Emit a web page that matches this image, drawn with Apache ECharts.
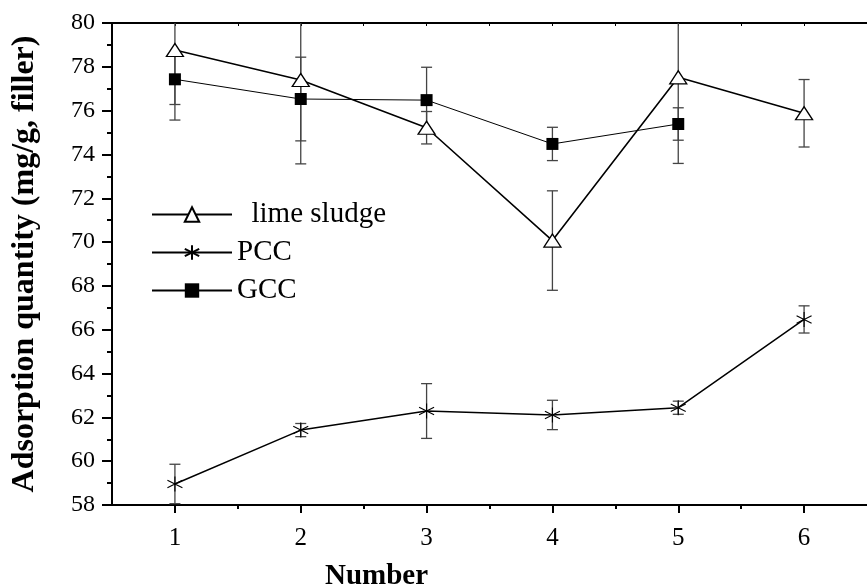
<!DOCTYPE html>
<html>
<head>
<meta charset="utf-8">
<script src="https://cdn.jsdelivr.net/npm/echarts@6/dist/echarts.min.js"></script>
<style>
html,body{margin:0;padding:0;background:#fff;}
#chart{width:867px;height:585px;}
</style>
</head>
<body>
<div id="chart"></div>
<script>
var xValues = [1, 2, 3, 4, 5, 6];
var xTickLabels = [1, 2, 3, 4, 5, 6];
var xMinorTicks = [1.5, 2.5, 3.5, 4.5, 5.5];

var limeSludge    = [78.77, 77.40, 75.22, 70.07, 77.52, 75.88];
var limeSludgeErr = [3.20, 3.83, 0.74, 2.27, 3.93, 1.54];
var pcc           = [58.96, 61.42, 62.29, 62.11, 62.44, 66.47];
var pccErr        = [0.90, 0.30, 1.25, 0.67, 0.30, 0.62];
var gccX          = [1, 2, 3, 4, 5];
var gcc           = [77.43, 76.53, 76.48, 74.48, 75.39];
var gccErr        = [1.15, 1.91, 1.50, 0.76, 0.74];

function pts(xs, ys) { return ys.map(function (v, i) { return [xs[i], v]; }); }
function errs(xs, ys, es) { return ys.map(function (v, i) { return [xs[i], v - es[i], v + es[i]]; }); }

var asterisk = 'path://M0,-1L0,1M-0.87,-0.5L0.87,0.5M-0.87,0.5L0.87,-0.5';
var FONT = 'Liberation Serif';

function errRender(params, api) {
  var cs = params.coordSys;
  var x = api.value(0);
  var lo = api.coord([x, api.value(1)]);
  var hi = api.coord([x, api.value(2)]);
  var top = cs.y, bot = cs.y + cs.height;
  var yHi = Math.max(hi[1], top), yLo = Math.min(lo[1], bot);
  var half = 5.5;
  var st = { stroke: '#444', lineWidth: 1.3 };
  var children = [{ type: 'line', shape: { x1: lo[0], y1: yLo, x2: lo[0], y2: yHi }, style: st }];
  if (hi[1] >= top) children.push({ type: 'line', shape: { x1: hi[0] - half, y1: hi[1], x2: hi[0] + half, y2: hi[1] }, style: st });
  if (lo[1] <= bot) children.push({ type: 'line', shape: { x1: lo[0] - half, y1: lo[1], x2: lo[0] + half, y2: lo[1] }, style: st });
  return { type: 'group', children: children };
}

var chart = echarts.init(document.getElementById('chart'), null, { renderer: 'canvas' });
var axisLineStyle = { color: '#000', width: 2 };
chart.setOption({
  animation: false,
  backgroundColor: '#fff',
  grid: { left: 112, top: 23, right: -11, bottom: 80, containLabel: false },
  legend: {
    orient: 'vertical', left: 146, top: 195,
    itemWidth: 80, itemHeight: 18, itemGap: 9,
    data: ['lime sludge', 'PCC', 'GCC'],
    formatter: function (n) { return n === 'lime sludge' ? '  ' + n : n; },
    textStyle: { fontFamily: FONT, fontSize: 29, color: '#000', padding: [0, 0, 0, 0] }
  },
  xAxis: [
    {
      type: 'value', position: 'bottom', min: 0.5, max: 6.5, interval: 0.5,
      axisLine: { show: true, lineStyle: axisLineStyle },
      axisTick: { show: true, inside: false, length: 8, customValues: xTickLabels, lineStyle: { color: '#000', width: 2 } },
      axisLabel: { show: true, customValues: xTickLabels, margin: 21, fontFamily: FONT, fontSize: 25, color: '#000' },
      splitLine: { show: false }
    },
    {
      type: 'value', position: 'bottom', min: 0.5, max: 6.5, interval: 0.5,
      axisLine: { show: false },
      axisTick: { show: true, inside: false, length: 4, customValues: xMinorTicks, lineStyle: { color: '#000', width: 2 } },
      axisLabel: { show: false }, splitLine: { show: false }
    },
    {
      type: 'value', position: 'top', min: 0.5, max: 6.5, interval: 0.5,
      axisLine: { show: true, onZero: false, lineStyle: axisLineStyle },
      axisTick: { show: true, inside: true, length: 3, lineStyle: { color: '#000', width: 1 } },
      axisLabel: { show: false }, splitLine: { show: false }
    }
  ],
  yAxis: {
    type: 'value', min: 58, max: 80, interval: 2,
    name: 'Adsorption quantity (mg/g, filler)',
    nameLocation: 'middle', nameRotate: 90, nameGap: 71,
    nameTextStyle: { fontFamily: FONT, fontSize: 32, fontWeight: 'bold', color: '#000' },
    axisLine: { show: true, onZero: false, lineStyle: axisLineStyle },
    axisTick: { show: true, inside: false, length: 10, lineStyle: { color: '#000', width: 2 } },
    minorTick: { show: true, splitNumber: 2, length: 5, lineStyle: { color: '#000', width: 2 } },
    axisLabel: { margin: 17, fontFamily: FONT, fontSize: 24, color: '#000' },
    splitLine: { show: false }
  },
  graphic: [{
    type: 'text', left: 378 - 53, top: 562,
    style: { text: 'Number', font: 'bold 29px "Liberation Serif"', fill: '#000' }
  }],
  series: [
    { type: 'custom', name: 'limeErr', renderItem: errRender, data: errs(xValues, limeSludge, limeSludgeErr), z: 1, silent: true },
    { type: 'custom', name: 'pccErr', renderItem: errRender, data: errs(xValues, pcc, pccErr), z: 1, silent: true },
    { type: 'custom', name: 'gccErr', renderItem: errRender, data: errs(gccX, gcc, gccErr), z: 1, silent: true },
    {
      type: 'line', name: 'lime sludge', data: pts(xValues, limeSludge), z: 3,
      symbol: 'triangle', symbolSize: [17, 13], showAllSymbol: true,
      lineStyle: { color: '#000', width: 1.6 },
      itemStyle: { color: '#fff', borderColor: '#000', borderWidth: 1.3 }
    },
    {
      type: 'line', name: 'PCC', data: pts(xValues, pcc), z: 3,
      symbol: asterisk, symbolSize: [15, 15], showAllSymbol: true,
      lineStyle: { color: '#000', width: 1.5 },
      itemStyle: { color: '#000', borderColor: '#000', borderWidth: 1.1 }
    },
    {
      type: 'line', name: 'GCC', data: pts(gccX, gcc), z: 3,
      symbol: 'rect', symbolSize: 12, showAllSymbol: true,
      lineStyle: { color: '#000', width: 1 },
      itemStyle: { color: '#000', borderColor: '#000', borderWidth: 0 }
    }
  ]
});
</script>
</body>
</html>
